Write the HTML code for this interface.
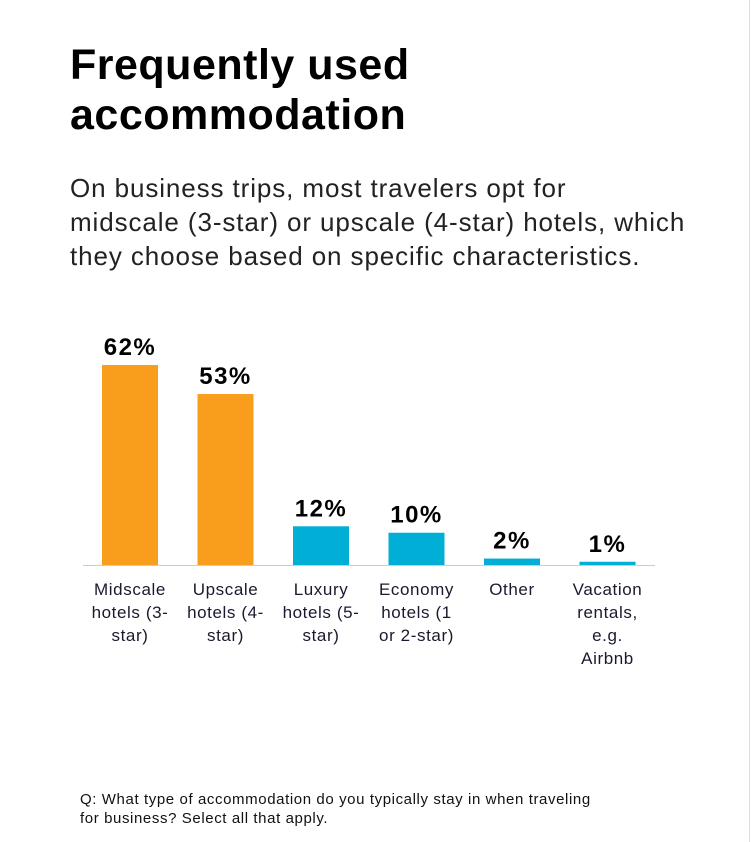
<!DOCTYPE html>
<html><head><meta charset="utf-8"><style>
body{margin:0;width:752px;height:842px;background:#fff;font-family:"Liberation Sans",sans-serif;position:relative;overflow:hidden}
#title{position:absolute;left:70px;top:40px;font-size:43px;font-weight:bold;line-height:50px;color:#000;margin:0;letter-spacing:0.5px}
#sub{position:absolute;left:70px;top:171px;font-size:26px;line-height:34px;color:#222;margin:0;width:700px;letter-spacing:0.9px}
#foot{position:absolute;left:80px;top:790px;font-size:15px;line-height:19px;color:#111;width:640px;white-space:nowrap;letter-spacing:0.6px}
#edge{position:absolute;left:749px;top:0;width:1px;height:842px;background:#ddd}
</style></head><body>
<h1 id="title">Frequently used<br>accommodation</h1>
<p id="sub">On business trips, most travelers opt for<br>midscale (3-star) or upscale (4-star) hotels, which<br>they choose based on specific characteristics.</p>
<svg id="chart" width="752" height="842" style="position:absolute;left:0;top:0"></svg>
<div id="foot">Q: What type of accommodation do you typically stay in when traveling<br>for business? Select all that apply.</div>
<div id="edge"></div>
<script>
const categories=[["Midscale","hotels (3-","star)"],["Upscale","hotels (4-","star)"],["Luxury","hotels (5-","star)"],["Economy","hotels (1","or 2-star)"],["Other"],["Vacation","rentals,","e.g.","Airbnb"]];
const values=[62,53,12,10,2,1];
const valueLabels=["62%","53%","12%","10%","2%","1%"];
const colors=["#F99D1C","#F99D1C","#00AED6","#00AED6","#00AED6","#00AED6"];
const NS="http://www.w3.org/2000/svg";
const svg=document.getElementById('chart');
const baseY=565,scale=200/62,x0=102,step=95.5,bw=56;
const y=v=>baseY-v*scale;
const xc=i=>x0+i*step+bw/2;
function mk(t,a){const e=document.createElementNS(NS,t);for(const k in a)e.setAttribute(k,a[k]);svg.appendChild(e);return e;}
const ax=mk('line',{x1:83,x2:655,y1:baseY+0.5,y2:baseY+0.5,stroke:'#ccc','stroke-width':1});


values.forEach((v,i)=>{
  const r=mk('rect',{x:xc(i)-bw/2,y:y(v),width:bw,height:baseY-y(v),fill:colors[i]});
  
  
  const t=mk('text',{x:xc(i),y:y(v)-10,'text-anchor':'middle','font-size':24,'font-weight':'bold',fill:'#000','letter-spacing':1.5});
  t.textContent=valueLabels[i];
  
  
  categories[i].forEach((ln,j)=>{
    const c=mk('text',{x:xc(i),y:595+j*23,'text-anchor':'middle','font-size':17,fill:'#1a1a2e','letter-spacing':0.6});
    c.textContent=ln;
    
    
  });
});
</script>
</body></html>
